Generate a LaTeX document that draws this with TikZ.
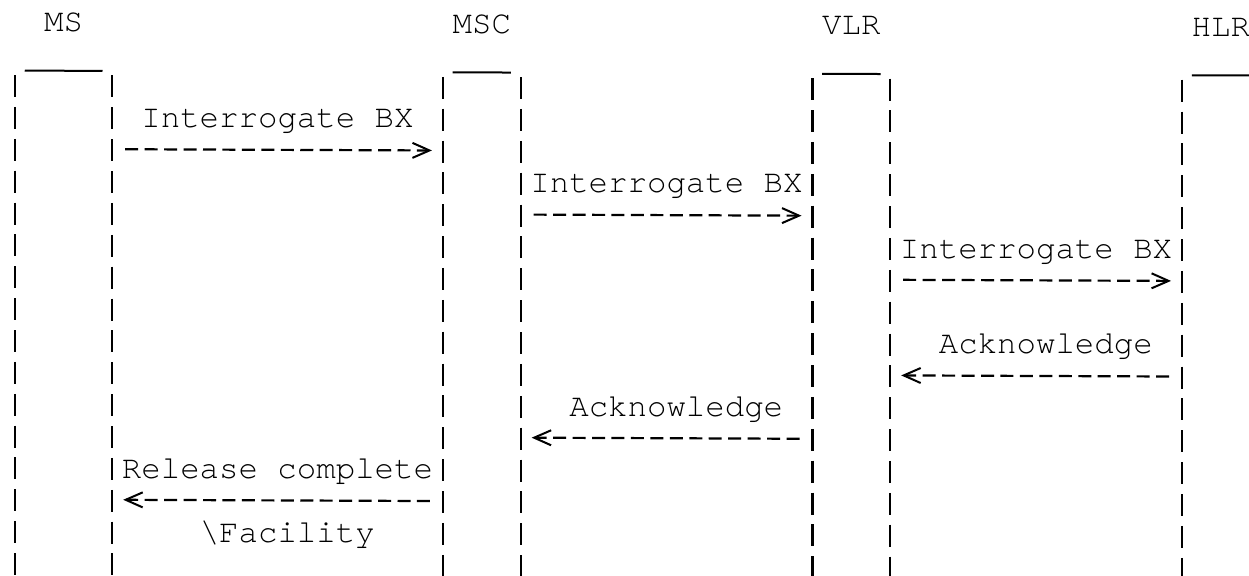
\documentclass[tikz,border=0pt]{standalone}
\usepackage{fontspec}
\newfontfamily\cour{texgyrecursor-regular.otf}
\usetikzlibrary{arrows.meta}
\def\X#1{(15+19.45*(#1))}
\def\Y#1{(22.26+31.87*(#1))}
\begin{document}
\begin{tikzpicture}[x=0.5pt,y=-0.5pt,
  lbl/.style={font=\cour\fontsize{16.2pt}{16.2pt}\selectfont, inner sep=0pt, outer sep=0pt, anchor=base west},
  lifeline/.style={line width=1.1pt, dash pattern=on 11pt off 4.935pt},
  underbar/.style={line width=1pt},
  msg/.style={line width=1.1pt, dash pattern=on 6.5pt off 3.225pt,
    -{Straight Barb[length=8.5pt,width=7.5pt,line width=1pt]}},
]
\useasboundingbox (0,0) rectangle (1249,576);
\clip (0,0) rectangle (1249,576);
\fill[white] (0,0) rectangle (1249,576);
\begin{scope}[cm={1,-0.004,0,1,(0,0)}]
% titles
\node[lbl] (ms)  at ({\X{2}-9.725},{\Y{0}+9.2}) {MS};
\node[lbl] (msc) at ({\X{23}-9.725},{\Y{0}+9.2}) {MSC};
\node[lbl] (vlr) at ({\X{42}-9.725},{\Y{0}+9.2}) {VLR};
\node[lbl] (hlr) at ({\X{61}-9.725},{\Y{0}+9.2}) {HLR};
% box tops
\foreach \n/\a/\b in {msu/1/4, mscu/23/25, vlru/42/44, hlru/61/63} {
  \coordinate (\n-a) at ({\X{\a}-9.7},70.5);
  \coordinate (\n-b) at ({\X{\b}+9.7},70.5);
  \draw[underbar] (\n-a) -- (\n-b);
}
% lifelines
\foreach \n/\c in {msl/0, msr/5, mscl/22, mscr/26, vlrl/41, vlrr/45, hlrl/60} {
  \coordinate (\n-top) at ({\X{\c}},75);
  \coordinate (\n-bot) at ({\X{\c}},600);
  \draw[lifeline] (\n-top) -- (\n-bot);
}
% message 1: MS -> MSC
\node[lbl] (m1) at ({\X{7}-9.725},{\Y{3}+9.2}) {Interrogate BX};
\coordinate (a1s) at ({\X{6}-6.5},{\Y{4}-1});
\coordinate (a1e) at ({\X{21}+8.5},{\Y{4}-1});
\draw[msg] (a1s) -- (a1e);
% message 2: MSC -> VLR
\node[lbl] (m2) at ({\X{27}-9.725},{\Y{5}+9.2}) {Interrogate BX};
\coordinate (a2s) at ({\X{27}-6.5},{\Y{6}-1});
\coordinate (a2e) at ({\X{40}+8.5},{\Y{6}-1});
\draw[msg] (a2s) -- (a2e);
% message 3: VLR -> HLR
\node[lbl] (m3) at ({\X{46}-9.725},{\Y{7}+9.2}) {Interrogate BX};
\coordinate (a3s) at ({\X{46}-6.5},{\Y{8}-1});
\coordinate (a3e) at ({\X{59}+8.5},{\Y{8}-1});
\draw[msg] (a3s) -- (a3e);
% message 4: HLR -> VLR
\node[lbl] (m4) at ({\X{48}-9.725},{\Y{10}+9.2}) {Acknowledge};
\coordinate (a4s) at ({\X{59}+6.5},{\Y{11}-1});
\coordinate (a4e) at ({\X{46}-8.5},{\Y{11}-1});
\draw[msg] (a4s) -- (a4e);
% message 5: VLR -> MSC
\node[lbl] (m5) at ({\X{29}-9.725},{\Y{12}+9.2}) {Acknowledge};
\coordinate (a5s) at ({\X{40}+6.5},{\Y{13}-1});
\coordinate (a5e) at ({\X{27}-8.5},{\Y{13}-1});
\draw[msg] (a5s) -- (a5e);
% message 6: MSC -> MS
\node[lbl] (m6) at ({\X{6}-9.725},{\Y{14}+9.2}) {Release complete};
\coordinate (a6s) at ({\X{21}+6.5},{\Y{15}-1});
\coordinate (a6e) at ({\X{6}-8.5},{\Y{15}-1});
\draw[msg] (a6s) -- (a6e);
\node[lbl] (m6b) at ({\X{10}-9.725},{\Y{16}+9.2}) {\textbackslash Facility};
\end{scope}
\end{tikzpicture}
\end{document}
